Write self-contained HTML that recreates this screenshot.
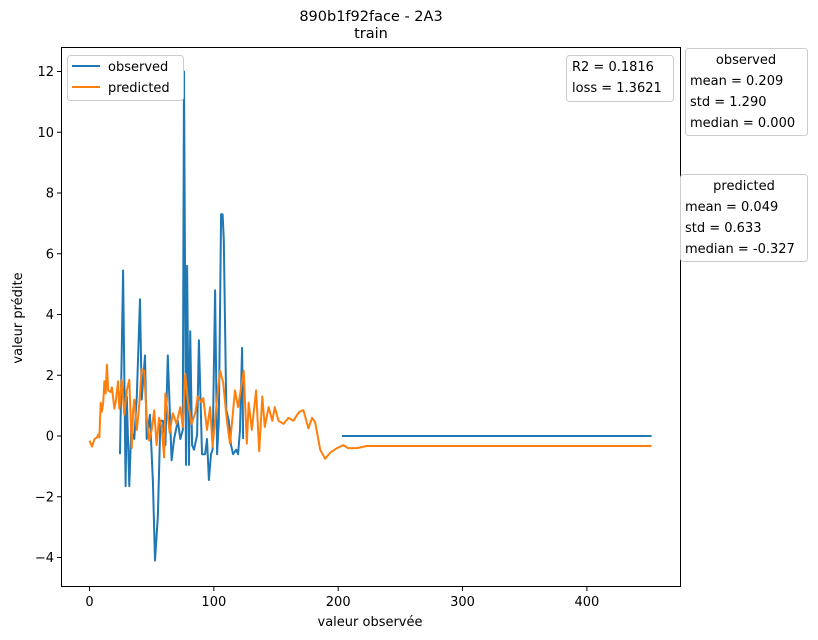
<!DOCTYPE html>
<html><head><meta charset="utf-8"><style>
body{margin:0;background:#fff;}
svg{display:block;font-family:"DejaVu Sans","Liberation Sans",sans-serif;}
</style></head><body>
<svg id="c" width="818" height="640" viewBox="0 0 818 640" xmlns="http://www.w3.org/2000/svg"></svg>
<script>
const obsX=[24.5,27,29,30,32,33.5,36,38,40.6,42,44.6,46,48.6,51,52.7,55,57,59,61,63,66,68,71,73,75,76,77.6,78.5,80,81,82.5,84,86.5,88,90.5,93,94.5,96,97.7,99,101,102.6,104,105.8,107,108,110,112,113.8,115.5,118,119.5,121,122.7,123.5,null,203,452];
const obsY=[-0.6,5.45,-1.65,1.3,-1.65,0.2,-0.1,1.3,4.5,1.2,2.65,-0.1,0.7,-1.5,-4.1,-2.6,0.5,0.5,-0.3,2.65,-0.8,-0.1,0.5,-0.1,0.2,12,-0.95,5.6,-0.95,3.45,-0.3,-0.45,0.03,3.15,-0.6,-0.6,-0.1,-1.45,-0.6,-0.45,4.8,-0.6,0.5,7.3,7.3,6.45,0.85,0.5,-0.3,-0.6,-0.45,-0.6,0.2,2.9,-0.1,null,0,0];
const predX=[0,2,4,6,7,8,9,10,11,12,13,14,15,17,18,20,21,23,24,26,28,30,32,34,35,36,38,40,42,44,46,48,50,52,54,56,58,60,61,64.5,67,70,73,75,77,79,82,85,87,90,91.5,94.5,97,99,102.5,105,107.5,110.5,113,117,119.5,124,126.5,128,130.5,134,136.5,139,141,144,147,149,152,156,160,164,167,169,172,176,179,181.5,185.5,189.5,193.5,199,204,208,215,223,452];
const predY=[-0.15,-0.35,-0.1,-0.05,0.05,-0.05,1.1,0.8,1.1,1.8,1.4,2.35,1.5,1.45,1.6,0.9,1.1,1.8,0.9,1.85,0.7,1.5,1.85,-0.4,0.8,1.2,0.2,1.0,2.2,2.15,0.6,-0.15,0.2,0.85,-0.3,0.6,0.3,-0.7,1.4,0.1,0.75,0.4,0.95,0.3,2.05,1.2,0.4,0.75,1.3,1.1,1.25,0.2,0.95,-0.35,1.2,2.15,1.75,0.5,-0.25,1.5,0.95,2.15,-0.25,1.1,0.2,1.5,-0.5,1.3,0.3,0.95,0.5,0.95,0.5,0.4,0.6,0.5,0.7,0.8,0.85,0.25,0.6,0.45,-0.45,-0.75,-0.55,-0.4,-0.3,-0.4,-0.4,-0.33,-0.33];
const xTicks=[0,100,200,300,400];
const yTicks=[-4,-2,0,2,4,6,8,10,12];

const L=61,R=681,T=47,B=587;
const sx=v=>89.5+v*1.2435;
const sy=v=>436-v*30.375;
const s=document.getElementById('c');
const NS='http://www.w3.org/2000/svg';
function mk(tag,attrs,txt){const e=document.createElementNS(NS,tag);for(const k in attrs)e.setAttribute(k,attrs[k]);if(txt!==undefined)e.textContent=txt;s.appendChild(e);return e;}
function pathOf(xs,ys){let d='',pen=false;for(let i=0;i<xs.length;i++){if(xs[i]===null||ys[i]===null){pen=false;continue;}d+=(pen?'L':'M')+sx(xs[i]).toFixed(1)+','+sy(ys[i]).toFixed(1);pen=true;}return d;}

let e;
e=mk('rect',{x:L,y:T,width:R-L,height:B-T,fill:'#fff',stroke:'none'});

e=mk('path',{d:pathOf(obsX,obsY),fill:'none',stroke:'#1f77b4','stroke-width':2,'stroke-linejoin':'round'});

e=mk('path',{d:pathOf(predX,predY),fill:'none',stroke:'#ff7f0e','stroke-width':2,'stroke-linejoin':'round'});

e=mk('rect',{x:L+0.5,y:T+0.5,width:R-L-1,height:B-T-1,fill:'none',stroke:'#000','stroke-width':1});


xTicks.forEach(v=>{
 e=mk('line',{x1:sx(v),x2:sx(v),y1:B,y2:B+4,stroke:'#000'});
 
 e=mk('text',{x:sx(v),y:B+19,'text-anchor':'middle','font-size':'13'},String(v));
 
});
yTicks.forEach(v=>{
 e=mk('line',{x1:L-4,x2:L,y1:sy(v),y2:sy(v),stroke:'#000'});
 
 e=mk('text',{x:L-7,y:sy(v)+4.5,'text-anchor':'end','font-size':'13'},v<0?'\u2212'+(-v):String(v));
 
});

e=mk('text',{x:371,y:21,'text-anchor':'middle','font-size':'14.5'},'890b1f92face - 2A3');

e=mk('text',{x:371,y:38,'text-anchor':'middle','font-size':'14.5'},'train');

e=mk('text',{x:370,y:626,'text-anchor':'middle','font-size':'13'},'valeur observée');

e=mk('text',{x:22,y:318,'text-anchor':'middle','font-size':'13',transform:'rotate(-90 22 318)'},'valeur prédite');


e=mk('rect',{x:67.5,y:55.5,width:116,height:45,rx:3,fill:'#fff',stroke:'#ccc'});

e=mk('line',{x1:72,x2:100,y1:66,y2:66,stroke:'#1f77b4','stroke-width':2});

e=mk('text',{x:108,y:71,'font-size':'13'},'observed');

e=mk('line',{x1:72,x2:100,y1:87,y2:87,stroke:'#ff7f0e','stroke-width':2});

e=mk('text',{x:108,y:92,'font-size':'13'},'predicted');


e=mk('rect',{x:566.5,y:55.5,width:107,height:46,rx:3,fill:'#fff',stroke:'#ccc'});

e=mk('text',{x:572,y:71,'font-size':'13'},'R2 = 0.1816');

e=mk('text',{x:572,y:92,'font-size':'13'},'loss = 1.3621');


e=mk('rect',{x:685.5,y:48.5,width:122,height:87,rx:3,fill:'#fff',stroke:'#ccc'});

e=mk('text',{x:746,y:64,'text-anchor':'middle','font-size':'13'},'observed');

e=mk('text',{x:690,y:85,'font-size':'13'},'mean = 0.209');

e=mk('text',{x:690,y:106,'font-size':'13'},'std = 1.290');

e=mk('text',{x:690,y:127,'font-size':'13'},'median = 0.000');


e=mk('rect',{x:680.5,y:174.5,width:127,height:87,rx:3,fill:'#fff',stroke:'#ccc'});

e=mk('text',{x:744,y:190,'text-anchor':'middle','font-size':'13'},'predicted');

e=mk('text',{x:685,y:211,'font-size':'13'},'mean = 0.049');

e=mk('text',{x:685,y:232,'font-size':'13'},'std = 0.633');

e=mk('text',{x:685,y:253,'font-size':'13'},'median = -0.327');

</script>
</body></html>
